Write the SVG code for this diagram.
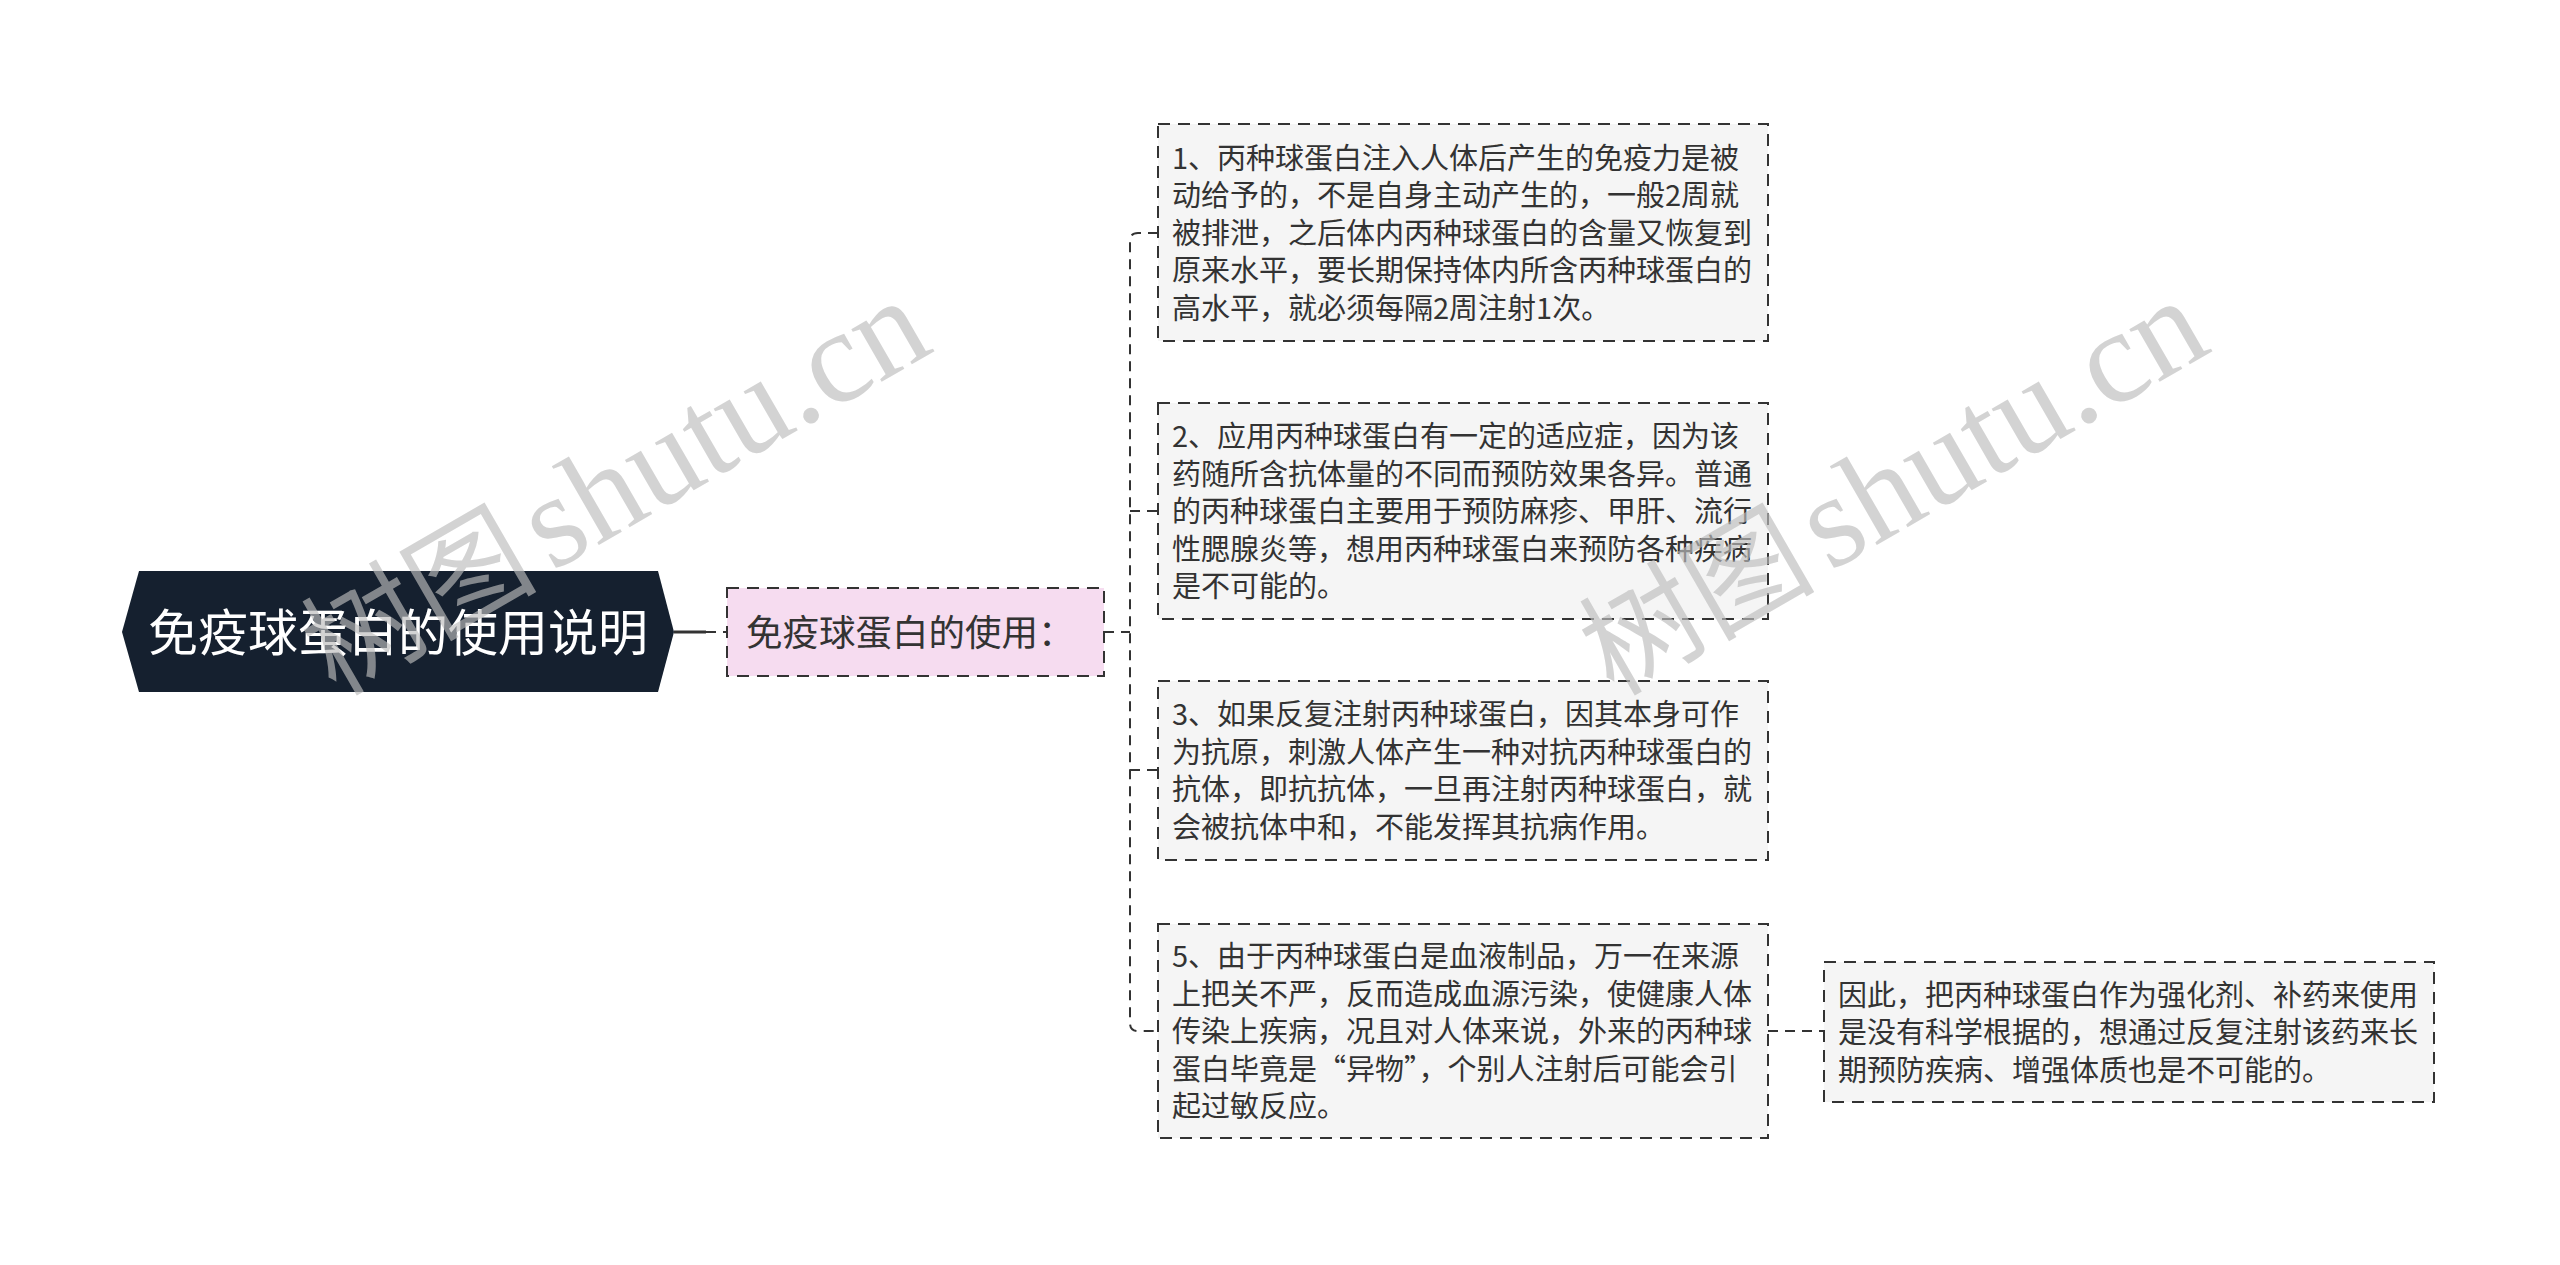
<svg xmlns="http://www.w3.org/2000/svg" width="2560" height="1265" viewBox="0 0 2560 1265">
<style>
.bg{fill:#ffffff}
.child{fill:#f5f5f5;stroke:#333333;stroke-width:2;stroke-dasharray:12 8}
.pink{fill:#f6dcf0;stroke:#333333;stroke-width:2;stroke-dasharray:12 8}
.root{fill:#15202f}
.t{font-family:"Microsoft YaHei","Noto Sans CJK SC","Noto Sans",sans-serif;fill:#333333;font-size:29px}
.rt{font-family:"Microsoft YaHei","Noto Sans CJK SC","Noto Sans",sans-serif;fill:#ffffff;font-size:50px}
.pt{font-family:"Microsoft YaHei","Noto Sans CJK SC","Noto Sans",sans-serif;fill:#333333;font-size:36.5px}
.conn{fill:none;stroke:#333333;stroke-width:2;stroke-dasharray:10 7}
.wm{font-size:132px;fill:#bdbdbd;opacity:0.65}
.wmc{font-family:"Noto Sans CJK SC",sans-serif;font-size:118px}
.wml{font-family:"Liberation Serif","DejaVu Serif",serif}
</style>
<rect class="bg" x="0" y="0" width="2560" height="1265"/>
<g id="connectors">
<line x1="674" y1="632" x2="706" y2="632" stroke="#333333" stroke-width="3"/>
<line class="conn" x1="706" y1="632" x2="727" y2="632"/>
<line class="conn" x1="1104" y1="632" x2="1130" y2="632"/>
<path class="conn" d="M1158 233 H1138 Q1130 233 1130 241 V1023 Q1130 1031 1138 1031 H1158"/>
<line class="conn" x1="1130" y1="511" x2="1158" y2="511"/>
<line class="conn" x1="1130" y1="770" x2="1158" y2="770"/>
<line class="conn" x1="1768" y1="1031" x2="1824" y2="1031"/>
</g>
<g id="root">
<polygon class="root" points="139,571 658,571 674,632 658,692 139,692 122,632"/>
<text class="rt" x="398" y="651" text-anchor="middle">免疫球蛋白的使用说明</text>
</g>
<g id="sub">
<rect class="pink" x="727" y="588" width="377" height="88"/>
<text class="pt" x="746" y="646">免疫球蛋白的使用：</text>
</g>
<g id="n1">
<rect class="child" x="1158" y="124" width="610" height="217"/>
<text class="t">
<tspan x="1172" y="168.5">1、丙种球蛋白注入人体后产生的免疫力是被</tspan>
<tspan x="1172" y="206">动给予的，不是自身主动产生的，一般2周就</tspan>
<tspan x="1172" y="243.5">被排泄，之后体内丙种球蛋白的含量又恢复到</tspan>
<tspan x="1172" y="281">原来水平，要长期保持体内所含丙种球蛋白的</tspan>
<tspan x="1172" y="318.5">高水平，就必须每隔2周注射1次。</tspan>
</text>
</g>
<g id="n2">
<rect class="child" x="1158" y="403" width="610" height="216"/>
<text class="t">
<tspan x="1172" y="447">2、应用丙种球蛋白有一定的适应症，因为该</tspan>
<tspan x="1172" y="484.5">药随所含抗体量的不同而预防效果各异。普通</tspan>
<tspan x="1172" y="522">的丙种球蛋白主要用于预防麻疹、甲肝、流行</tspan>
<tspan x="1172" y="559.5">性腮腺炎等，想用丙种球蛋白来预防各种疾病</tspan>
<tspan x="1172" y="597">是不可能的。</tspan>
</text>
</g>
<g id="n3">
<rect class="child" x="1158" y="681" width="610" height="179"/>
<text class="t">
<tspan x="1172" y="725">3、如果反复注射丙种球蛋白，因其本身可作</tspan>
<tspan x="1172" y="762.5">为抗原，刺激人体产生一种对抗丙种球蛋白的</tspan>
<tspan x="1172" y="800">抗体，即抗抗体，一旦再注射丙种球蛋白，就</tspan>
<tspan x="1172" y="837.5">会被抗体中和，不能发挥其抗病作用。</tspan>
</text>
</g>
<g id="n5">
<rect class="child" x="1158" y="924" width="610" height="214"/>
<text class="t">
<tspan x="1172" y="967">5、由于丙种球蛋白是血液制品，万一在来源</tspan>
<tspan x="1172" y="1004.5">上把关不严，反而造成血源污染，使健康人体</tspan>
<tspan x="1172" y="1042">传染上疾病，况且对人体来说，外来的丙种球</tspan>
<tspan x="1172" y="1079.5">蛋白毕竟是“异物”，个别人注射后可能会引</tspan>
<tspan x="1172" y="1117">起过敏反应。</tspan>
</text>
</g>
<g id="n6">
<rect class="child" x="1824" y="962" width="610" height="140"/>
<text class="t">
<tspan x="1838" y="1005.5">因此，把丙种球蛋白作为强化剂、补药来使用</tspan>
<tspan x="1838" y="1043">是没有科学根据的，想通过反复注射该药来长</tspan>
<tspan x="1838" y="1080.5">期预防疾病、增强体质也是不可能的。</tspan>
</text>
</g>
<g id="watermark">
<g transform="translate(552 572) rotate(-30)">
<text class="wm wmc" x="-14" y="0" text-anchor="end">树图</text>
<text class="wm wml" x="0" y="0">shutu.cn</text>
</g>
<g transform="translate(1830 572) rotate(-30)">
<text class="wm wmc" x="-14" y="0" text-anchor="end">树图</text>
<text class="wm wml" x="0" y="0">shutu.cn</text>
</g>
</g>
</svg>
